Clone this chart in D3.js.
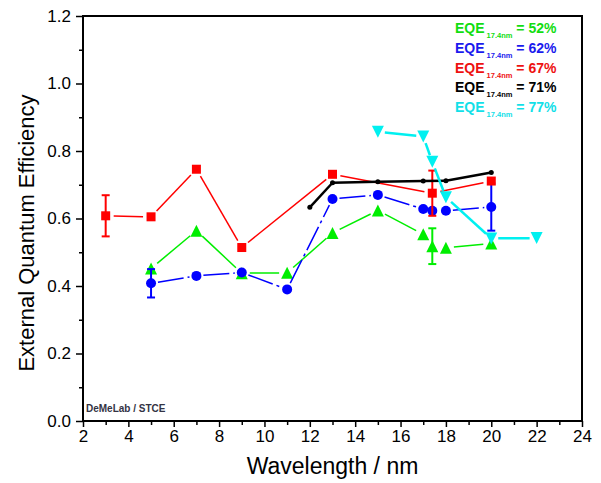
<!DOCTYPE html>
<html lang="en">
  <head>
    <meta charset='utf-8'>
    <script src='https://d3js.org/d3.v7.min.js'></script>
    <title>EQE vs wavelength</title>
    <style>
      body { margin: 0px; background: #fff; overflow: hidden; }
      svg { display: block; }
      svg text { font-family: Arial, 'Liberation Sans', sans-serif; }
      .tick text { font-size: 17px; fill: #000; }
      .tick line { stroke: #000; stroke-width: 1.5px; }
      .domain { display: none; }
      .axis-label { font-size: 22px; fill: #000; }
    </style>
  </head>
  <body>
    <div id='chart'></div>
    <script>
      // axis ticks
      const xMajor = [2, 4, 6, 8, 10, 12, 14, 16, 18, 20, 22, 24];
      const xMinor = [3, 5, 7, 9, 11, 13, 15, 17, 19, 21, 23];
      const yMajor = [0, 0.2, 0.4, 0.6, 0.8, 1.0, 1.2];
      const yMinor = [0.1, 0.3, 0.5, 0.7, 0.9, 1.1];

      // series (error = half-length of the error bar, 0 = none)
      const greenX = [5, 7, 9, 11, 13, 15, 17, 17.4, 18, 20];
      const greenY = [0.452, 0.564, 0.438, 0.439, 0.557, 0.624, 0.553, 0.518, 0.513, 0.526];
      const greenErr = [0, 0, 0, 0, 0, 0, 0, 0.053, 0, 0];

      const blueX = [5, 7, 9, 11, 13, 15, 17, 17.4, 18, 20];
      const blueY = [0.408, 0.43, 0.44, 0.39, 0.658, 0.67, 0.628, 0.623, 0.623, 0.634];
      const blueErr = [0.042, 0, 0, 0, 0, 0, 0, 0, 0, 0.07];

      const redX = [3, 5, 7, 9, 13, 17.4, 20];
      const redY = [0.608, 0.605, 0.746, 0.514, 0.731, 0.675, 0.711];
      const redErr = [0.061, 0, 0, 0, 0, 0.067, 0];

      const blackX = [12, 13, 15, 17, 18, 20];
      const blackY = [0.633, 0.706, 0.709, 0.711, 0.712, 0.736];

      const cyanX = [15, 17, 17.4, 18, 20, 22];
      const cyanY = [0.857, 0.843, 0.768, 0.663, 0.541, 0.542];

      const legendPct = ['52%', '62%', '67%', '71%', '77%'];

      const width = 601, height = 483;
      const margin = { left: 83, right: 19, top: 16, bottom: 62 };
      const innerWidth = width - margin.left - margin.right;
      const innerHeight = height - margin.top - margin.bottom;

      const svg = d3.select('#chart').append('svg')
        .attr('width', width)
        .attr('height', height);

      const g = svg.append('g')
        .attr('transform', `translate(${margin.left},${margin.top})`);

      const xScale = d3.scaleLinear().domain([2, 24]).range([0, innerWidth]);
      const yScale = d3.scaleLinear().domain([0, 1.2]).range([innerHeight, 0]);

      // axes: major + minor ticks, outward
      g.append('g')
        .attr('transform', `translate(0,${innerHeight})`)
        .call(d3.axisBottom(xScale).tickValues(xMajor).tickSize(6).tickPadding(3).tickFormat(d3.format('d')));
      g.append('g')
        .attr('transform', `translate(0,${innerHeight})`)
        .call(d3.axisBottom(xScale).tickValues(xMinor).tickSize(4).tickFormat(''))
        .selectAll('.tick text').remove();
      g.append('g')
        .call(d3.axisLeft(yScale).tickValues(yMajor).tickSize(7).tickPadding(5).tickFormat(d3.format('.1f')));
      g.append('g')
        .call(d3.axisLeft(yScale).tickValues(yMinor).tickSize(4).tickFormat(''))
        .selectAll('.tick text').remove();

      // frame
      g.append('rect')
        .attr('width', innerWidth)
        .attr('height', innerHeight)
        .attr('fill', 'none')
        .attr('stroke', '#000')
        .attr('stroke-width', 2);

      // watermark
      g.append('text')
        .attr('x', 3)
        .attr('y', innerHeight - 9)
        .attr('font-size', 10)
        .attr('font-weight', 'bold')
        .attr('fill', '#333344')
        .text('DeMeLab / STCE');

      // axis labels
      svg.append('text')
        .attr('class', 'axis-label')
        .attr('transform', `translate(34,233) rotate(-90)`)
        .attr('text-anchor', 'middle')
        .text('External Quantum Efficiency');

      svg.append('text')
        .attr('class', 'axis-label')
        .attr('x', margin.left + innerWidth / 2)
        .attr('y', 474)
        .attr('font-size', 23)
        .style('font-size', '23px')
        .attr('text-anchor', 'middle')
        .text('Wavelength / nm');

      const triUp = (s) => `M0,${-s / 2}L${s / 2},${s / 2}L${-s / 2},${s / 2}Z`;
      const triDown = (s) => `M0,${s / 2}L${s / 2},${-s / 2}L${-s / 2},${-s / 2}Z`;

      // line split into segments with a gap near each symbol
      function drawSeries(xs, ys, errs, opt) {
        const pts = xs.map((x, i) => [xScale(x), yScale(ys[i])]);
        const segs = [];
        for (let i = 0; i < pts.length - 1; i++) {
          const [x1, y1] = pts[i], [x2, y2] = pts[i + 1];
          const len = Math.hypot(x2 - x1, y2 - y1);
          if (len <= 2 * opt.gap) continue;
          const ux = (x2 - x1) / len, uy = (y2 - y1) / len;
          segs.push([x1 + ux * opt.gap, y1 + uy * opt.gap, x2 - ux * opt.gap, y2 - uy * opt.gap]);
        }
        const sg = g.append('g');
        sg.selectAll('line.seg').data(segs).enter().append('line')
          .attr('class', 'seg')
          .attr('x1', d => d[0]).attr('y1', d => d[1])
          .attr('x2', d => d[2]).attr('y2', d => d[3])
          .attr('stroke', opt.color)
          .attr('stroke-width', opt.lw)
          .attr('stroke-dasharray', opt.dash || null);

        if (errs) {
          const eb = xs.map((x, i) => ({ x: x, y: ys[i], e: errs[i] })).filter(d => d.e > 0);
          const ebG = sg.selectAll('g.err').data(eb).enter().append('g')
            .attr('stroke', opt.color).attr('stroke-width', 2);
          ebG.append('line')
            .attr('x1', d => xScale(d.x)).attr('x2', d => xScale(d.x))
            .attr('y1', d => yScale(d.y - d.e)).attr('y2', d => yScale(d.y + d.e));
          ebG.append('line')
            .attr('x1', d => xScale(d.x) - 4).attr('x2', d => xScale(d.x) + 4)
            .attr('y1', d => yScale(d.y - d.e)).attr('y2', d => yScale(d.y - d.e));
          ebG.append('line')
            .attr('x1', d => xScale(d.x) - 4).attr('x2', d => xScale(d.x) + 4)
            .attr('y1', d => yScale(d.y + d.e)).attr('y2', d => yScale(d.y + d.e));
        }

        const m = sg.selectAll('.mk').data(pts).enter();
        if (opt.shape === 'circle') {
          m.append('circle').attr('class', 'mk')
            .attr('cx', d => d[0]).attr('cy', d => d[1])
            .attr('r', opt.size / 2).attr('fill', opt.color);
        } else if (opt.shape === 'square') {
          m.append('rect').attr('class', 'mk')
            .attr('x', d => d[0] - opt.size / 2).attr('y', d => d[1] - opt.size / 2)
            .attr('width', opt.size).attr('height', opt.size).attr('fill', opt.color);
        } else {
          const p = opt.shape === 'up' ? triUp(opt.size) : triDown(opt.size);
          m.append('path').attr('class', 'mk')
            .attr('transform', d => `translate(${d[0]},${d[1]})`)
            .attr('d', p).attr('fill', opt.color);
        }
      }

      drawSeries(greenX, greenY, greenErr, { color: '#00ee00', lw: 1.5, gap: 8, shape: 'up', size: 12 });
      drawSeries(blueX, blueY, blueErr, { color: '#0000ff', lw: 1.5, gap: 7, shape: 'circle', size: 10, dash: '26,4,3,4' });
      drawSeries(redX, redY, redErr, { color: '#ff0000', lw: 1.5, gap: 8, shape: 'square', size: 9 });
      drawSeries(blackX, blackY, null, { color: '#000000', lw: 2.5, gap: 0, shape: 'circle', size: 5 });
      drawSeries(cyanX, cyanY, null, { color: '#00f0f0', lw: 2.5, gap: 7, shape: 'down', size: 12 });

      // legend
      const legendColors = ['#11dd11', '#1a1aee', '#ee1111', '#000000', '#11e0e8'];
      const leg = svg.append('g');
      legendPct.forEach((p, i) => {
        const t = leg.append('text')
          .attr('x', 455)
          .attr('y', 33 + i * 19.8)
          .attr('font-weight', 'bold')
          .attr('font-size', 14)
          .attr('fill', legendColors[i]);
        t.append('tspan').text('EQE');
        t.append('tspan').attr('font-size', 7.5).attr('dx', 2).attr('dy', 5).text('17.4nm');
        t.append('tspan').attr('dy', -5).text(' = ' + p);
      });
    </script>
  </body>
</html>
